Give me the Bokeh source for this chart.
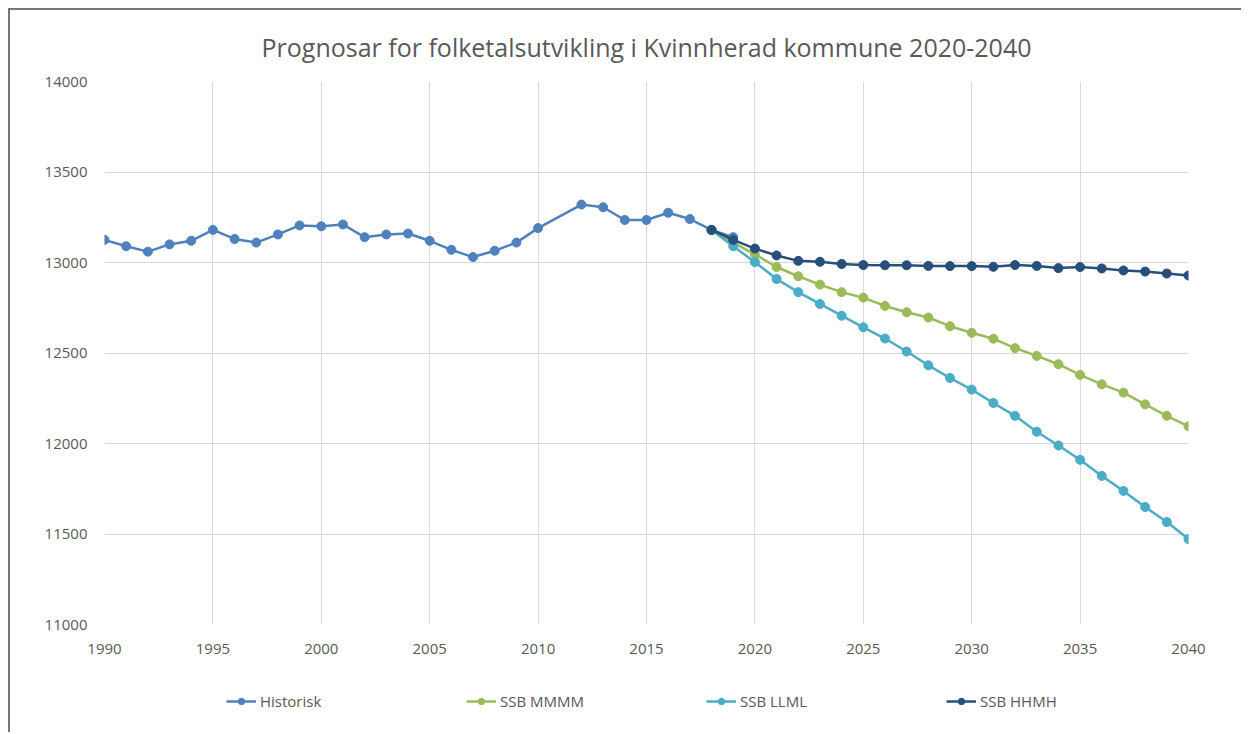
from bokeh.plotting import figure
from bokeh.models import Range1d, FixedTicker, Legend, LegendItem, Title
from bokeh.layouts import column
from bokeh.embed import file_html
from bokeh.resources import INLINE

# ---- data ----
hist_years = [1990, 1991, 1992, 1993, 1994, 1995, 1996, 1997, 1998, 1999,
              2000, 2001, 2002, 2003, 2004, 2005, 2006, 2007, 2008, 2009,
              2010, 2012, 2013, 2014, 2015, 2016, 2017, 2018, 2019]
hist_vals = [13125, 13090, 13060, 13100, 13120, 13180, 13130, 13110, 13155, 13205,
             13200, 13210, 13140, 13155, 13160, 13120, 13070, 13030, 13065, 13110,
             13190, 13320, 13305, 13235, 13235, 13275, 13240, 13180, 13140]

proj_years = list(range(2018, 2041))
mmmm_vals = [13180, 13110, 13045, 12975, 12924, 12878, 12836, 12806, 12760, 12725,
             12696, 12648, 12612, 12579, 12527, 12484, 12438, 12379, 12327, 12281,
             12216, 12153, 12095]
llml_vals = [13180, 13090, 13002, 12909, 12836, 12771, 12706, 12642, 12580, 12508,
             12432, 12362, 12298, 12224, 12153, 12065, 11989, 11910, 11821, 11738,
             11649, 11566, 11472]
hhmh_vals = [13180, 13125, 13077, 13039, 13009, 13004, 12992, 12986, 12985, 12985,
             12981, 12980, 12980, 12976, 12986, 12981, 12969, 12975, 12967, 12956,
             12950, 12939, 12928]

series_names = ["Historisk", "SSB MMMM", "SSB LLML", "SSB HHMH"]
series_colors = ["#4f81bd", "#9bbb59", "#4bacc6", "#284e7c"]

x_ticks = list(range(1990, 2041, 5))
y_ticks = list(range(11000, 14001, 500))
title_text = "Prognosar for folketalsutvikling i Kvinnherad kommune 2020-2040"

FONT = "Open Sans"
TXT = "#595959"
GRID = "#d9d9d9"
FRAME_LINE = "2px solid #767676"

# ---- main chart ----
p = figure(output_backend="svg", toolbar_location=None,
           x_range=Range1d(1990, 2040), y_range=Range1d(11000, 14000),
           frame_width=1082, frame_height=541,
           min_border_left=94, min_border_right=55,
           min_border_top=71, min_border_bottom=40,
           background_fill_color="white", border_fill_color="white")
p.styles = {"border-top": FRAME_LINE, "border-left": FRAME_LINE,
            "margin-left": "8px", "margin-top": "8px"}
p.outline_line_color = None

t = Title(text=title_text, align="center", text_font=FONT, text_font_size="25px",
          text_font_style="normal", text_color=TXT, standoff=35)
p.add_layout(t, "above")

p.xaxis.ticker = FixedTicker(ticks=x_ticks)
p.yaxis.ticker = FixedTicker(ticks=y_ticks)
for ax in (p.xaxis, p.yaxis):
    ax.axis_line_color = None
    ax.major_tick_line_color = None
    ax.minor_tick_line_color = None
    ax.major_label_text_font = FONT
    ax.major_label_text_font_size = "15px"
    ax.major_label_text_color = TXT
p.xaxis.major_label_standoff = 13
p.yaxis.major_label_standoff = 11

p.xgrid.ticker = FixedTicker(ticks=x_ticks)
p.ygrid.ticker = FixedTicker(ticks=y_ticks)
p.grid.grid_line_color = GRID
p.grid.grid_line_width = 1

data = [(hist_years, hist_vals), (proj_years, mmmm_vals),
        (proj_years, llml_vals), (proj_years, hhmh_vals)]
for (xs, ys), col in zip(data, series_colors):
    p.line(xs, ys, line_color=col, line_width=2.5)
    p.scatter(xs, ys, size=9, fill_color=col, line_color=col)

# ---- legend strip (same series, drawn out of view; only the legend shows) ----
p2 = figure(output_backend="svg", toolbar_location=None,
            width=1231, height=70,
            x_range=Range1d(0, 1), y_range=Range1d(0, 1),
            x_axis_location=None, y_axis_location=None,
            min_border_left=0, min_border_right=0,
            min_border_top=0, min_border_bottom=0,
            background_fill_color="white", border_fill_color="white")
p2.styles = {"border-left": FRAME_LINE, "margin-left": "8px"}
p2.outline_line_color = None
p2.grid.visible = False

items = []
for (xs, ys), name, col in zip(data, series_names, series_colors):
    ln = p2.line(xs, ys, line_color=col, line_width=2.5)
    sc = p2.scatter(xs, ys, size=9, fill_color=col, line_color=col)
    items.append(LegendItem(label=name, renderers=[ln, sc]))

legend = Legend(items=items, orientation="horizontal", location=(122, 21),
                label_text_font=FONT, label_text_font_size="15px",
                label_text_color=TXT, spacing=0, glyph_width=30, glyph_height=16,
                label_width=206, label_height=16, label_standoff=4,
                border_line_color=None, background_fill_alpha=0,
                margin=0, padding=0)
p2.add_layout(legend, "center")

layout = column(p, p2, spacing=0)
open("out.html", "w").write(file_html(layout, INLINE))
